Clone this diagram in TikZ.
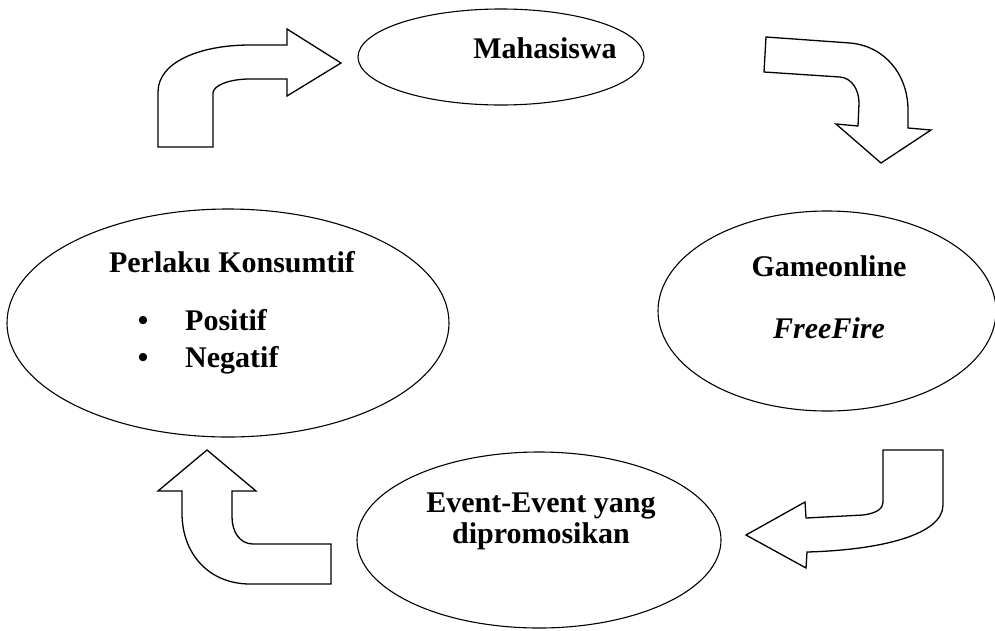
\documentclass[tikz,border=0pt]{standalone}
\usepackage{fontspec}
\setmainfont{Liberation Serif}
\usetikzlibrary{shapes.geometric}
\tikzset{
  oval/.style={draw, ellipse, line width=1.1pt, inner sep=0pt},
  blockarrow/.style={draw, line width=1.3pt, line join=miter, fill=white},
  lbl/.style={inner sep=0pt, anchor=base, font=\fontsize{30}{36}\selectfont\bfseries},
}
\begin{document}
\begin{tikzpicture}[x=1pt, y=-1pt]
\clip (0,0) rectangle (995,630);
\useasboundingbox (0,0) rectangle (995,630);
\fill[white] (0,0) rectangle (995,630);

% ellipses
\node[oval, minimum width=286pt, minimum height=96pt] (maha) at (501,57) {};
\node[oval, minimum width=442pt, minimum height=228pt] (perl) at (228,323) {};
\node[oval, minimum width=338pt, minimum height=200pt] (game) at (827,311) {};
\node[oval, minimum width=364pt, minimum height=176pt] (event) at (539,540) {};

% texts
\node[lbl] (tmaha) at (545,58) {Mahasiswa};
\node[lbl] (tperl) at (232,272) {Perlaku Konsumtif};
\node[lbl] (b1) at (143,330) {\textbullet};
\node[lbl] (b2) at (143,367) {\textbullet};
\node[lbl, anchor=base west] (tpos) at (185,330) {Positif};
\node[lbl, anchor=base west] (tneg) at (185,367) {Negatif};
\node[lbl] (tgame) at (829,276) {Gameonline};
\node[lbl, font=\fontsize{30}{36}\selectfont\bfseries\itshape] (tff) at (829,338) {FreeFire};
\node[lbl] (tev1) at (541,512) {Event-Event yang};
\node[lbl] (tev2) at (541,543) {dipromosikan};

% arrow 1: top-left, pointing right to Mahasiswa
\draw[blockarrow] (158,147) -- (158,92)
  .. controls (158,62) and (200,45) .. (250,45)
  -- (287,45) -- (287,29) -- (341,63) -- (287,96) -- (287,79) -- (250,79)
  .. controls (228,79) and (213,86) .. (213,93)
  -- (213,147) -- cycle;

% arrow 2: top-right, pointing down to Gameonline
\draw[blockarrow] (766,37) -- (850,43)
  .. controls (885,46) and (908,75) .. (908,110)
  -- (908,128) -- (931,130) -- (881,163) -- (836,124) -- (858,126) -- (859,103)
  .. controls (859,90) and (852,78) .. (840,77)
  -- (764,72) -- cycle;

% arrow 3: bottom-right, pointing left to Event
\draw[blockarrow] (883,450) -- (943,450) -- (943,505)
  .. controls (943,535) and (880,550) .. (807,552)
  -- (806,568) -- (746,535) -- (805,502) -- (806,518) -- (863,515)
  .. controls (878,513) and (883,508) .. (883,502)
  -- cycle;

% arrow 4: bottom-left, pointing up to Perlaku
\draw[blockarrow] (207,450) -- (158,491) -- (182,491) -- (182,513)
  .. controls (182,555) and (210,584) .. (250,584)
  -- (331,584) -- (331,544) -- (253,544)
  .. controls (240,544) and (232,532) .. (232,517)
  -- (232,491) -- (256,491) -- cycle;
\end{tikzpicture}
\end{document}
